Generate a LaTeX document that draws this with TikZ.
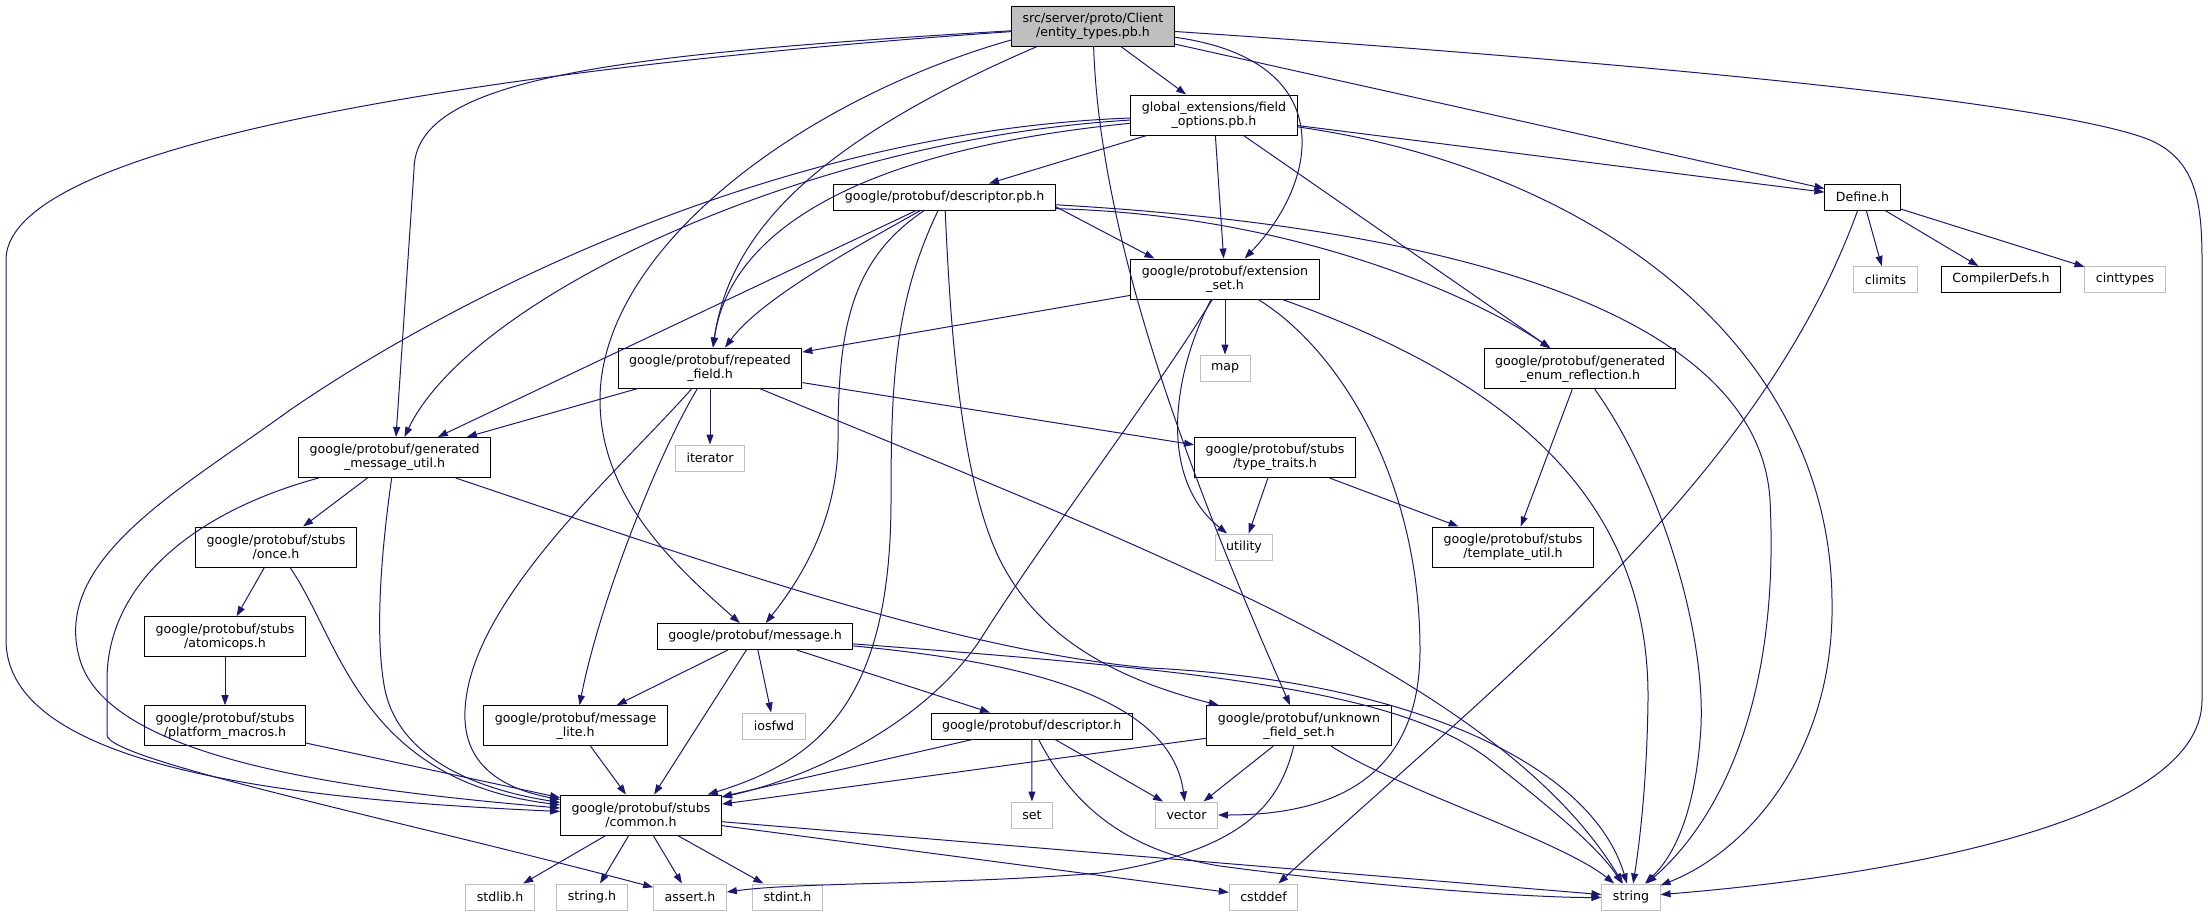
\documentclass[tikz,border=0pt]{standalone}
\usepackage{fontspec}
\setmainfont{DejaVu Sans}
\usetikzlibrary{arrows.meta}
\definecolor{navy}{HTML}{191970}
\definecolor{grey75}{HTML}{BFBFBF}

\begin{document}
\begin{tikzpicture}[
    x=1pt, y=-1pt,
    file/.style={rectangle, draw=black, line width=1pt, fill=white,
        minimum height=26pt, inner xsep=11pt, inner ysep=3pt, align=center,
        font=\fontsize{12.6}{14}\selectfont},
    dbl/.style={minimum height=40pt},
    sys/.style={file, draw=grey75},
    link/.style={navy, line width=1pt, -{Triangle[length=10pt,width=7pt]}}
]
    \useasboundingbox (0,0) rectangle (2208,916);

    \node[file,dbl,fill=grey75] (root) at (1093,26) {src/server/proto/Client\\/entity\_types.pb.h};
    \node[file,dbl] (fopt) at (1214,115) {global\_extensions/field\\\_options.pb.h};
    \node[file] (dpb) at (944.6,197) {google/protobuf/descriptor.pb.h};
    \node[file] (define) at (1862.5,197) {Define.h};
    \node[file,dbl] (extset) at (1225,279) {google/protobuf/extension\\\_set.h};
    \node[sys] (climits) at (1885.5,279.5) {climits};
    \node[file] (compdefs) at (2001,279.5) {CompilerDefs.h};
    \node[sys] (cinttypes) at (2125,279.5) {cinttypes};
    \node[file,dbl] (repf) at (710,368) {google/protobuf/repeated\\\_field.h};
    \node[sys] (map) at (1225,368) {map};
    \node[file,dbl] (enumref) at (1580,368.7) {google/protobuf/generated\\\_enum\_reflection.h};
    \node[file,dbl] (gmu) at (394.6,457.5) {google/protobuf/generated\\\_message\_util.h};
    \node[sys] (iterator) at (710,458) {iterator};
    \node[file,dbl] (traits) at (1275,457.5) {google/protobuf/stubs\\/type\_traits.h};
    \node[file,dbl] (once) at (276,547) {google/protobuf/stubs\\/once.h};
    \node[sys] (utility) at (1244,547) {utility};
    \node[file,dbl] (tmpl) at (1513,547) {google/protobuf/stubs\\/template\_util.h};
    \node[file,dbl] (atomic) at (225,636.7) {google/protobuf/stubs\\/atomicops.h};
    \node[file] (message) at (755,636.5) {google/protobuf/message.h};
    \node[file,dbl] (platform) at (225,725.7) {google/protobuf/stubs\\/platform\_macros.h};
    \node[file,dbl] (msglite) at (575.5,725.7) {google/protobuf/message\\\_lite.h};
    \node[sys] (iosfwd) at (774,726) {iosfwd};
    \node[file] (descr) at (1031.7,726) {google/protobuf/descriptor.h};
    \node[file,dbl] (unknown) at (1299,725.7) {google/protobuf/unknown\\\_field\_set.h};
    \node[file,dbl] (common) at (641,815) {google/protobuf/stubs\\/common.h};
    \node[sys] (set) at (1032,815) {set};
    \node[sys] (vector) at (1186.5,815) {vector};
    \node[sys] (stdlib) at (500,897) {stdlib.h};
    \node[sys] (stringh) at (592,897) {string.h};
    \node[sys] (assert) at (690,897) {assert.h};
    \node[sys] (stdint) at (787.5,897) {stdint.h};
    \node[sys] (cstddef) at (1263.6,897) {cstddef};
    \node[sys] (string) at (1631,897) {string};

    \draw[link] (root) -- (fopt);
    \draw[link] (root) -- (define);
    \draw[link] (root) .. controls (1600,60) and (2050,100) .. (2150,140) .. controls (2195,160) and (2202,200) .. (2202,260) -- (2202,700) .. controls (2202,820) and (1900,875) .. (string);
    \draw[link] (root) .. controls (600,60) and (6,130) .. (6,260) -- (6,640) .. controls (6,770) and (300,800) .. (common);
    \draw[link] (root) .. controls (600,55) and (414,80) .. (414,170) -- (gmu);
    \draw[link] ([xshift=26pt]root.south west) .. controls (820,140) and (730,230) .. (repf);
    \draw[link] ([yshift=-14pt]root.west) .. controls (800,100) and (600,250) .. (600,400) .. controls (600,500) and (680,570) .. (message);
    \draw[link] (root) .. controls (1340,60) and (1320,180) .. (extset);
    \draw[link] (root) .. controls (1100,250) and (1200,500) .. (unknown);

    \draw[link] (fopt) -- (dpb);
    \draw[link] (fopt) .. controls (800,140) and (470,300) .. (gmu);
    \draw[link] (fopt) .. controls (860,150) and (730,230) .. (repf);
    \draw[link] (fopt) .. controls (800,130) and (480,280) .. (290,410) .. controls (180,490) and (50,560) .. (80,660) .. controls (110,760) and (350,790) .. (common);
    \draw[link] (fopt) -- (extset);
    \draw[link] (fopt) -- (enumref);
    \draw[link] (fopt) -- (define);
    \draw[link] (fopt) .. controls (1600,170) and (1830,350) .. (1832,600) .. controls (1835,750) and (1750,850) .. (string);

    \draw[link] (dpb) -- (gmu);
    \draw[link] (dpb) .. controls (850,250) and (760,300) .. (repf);
    \draw[link] (dpb) .. controls (850,260) and (838,330) .. (838,440) .. controls (838,520) and (800,580) .. (message);
    \draw[link] (dpb) .. controls (895,300) and (891,380) .. (891,500) .. controls (891,700) and (820,760) .. (common);
    \draw[link] (dpb) .. controls (950,320) and (960,480) .. (1000,560) .. controls (1040,640) and (1120,680) .. (unknown);
    \draw[link] (dpb.-5) -- ([xshift=24pt]extset.north west);
    \draw[link] (dpb.-6) .. controls (1300,215) and (1480,300) .. (enumref);
    \draw[link] (dpb.-4) .. controls (1500,230) and (1760,330) .. (1770,500) .. controls (1780,700) and (1720,820) .. (string);

    \draw[link] (define) -- (climits);
    \draw[link] (define) -- (compdefs);
    \draw[link] (define) -- (cinttypes);
    \draw[link] (define) .. controls (1760,480) and (1500,680) .. (cstddef);

    \draw[link] (extset) -- (repf);
    \draw[link] (extset) -- (map);
    \draw[link] ([xshift=-14pt]extset.south) .. controls (1170,380) and (1160,480) .. (utility);
    \draw[link] (extset) .. controls (1150,400) and (1050,530) .. (980,640) .. controls (920,730) and (800,780) .. (common);
    \draw[link] (extset) .. controls (1340,350) and (1420,480) .. (1420,650) .. controls (1420,780) and (1330,815) .. (vector);
    \draw[link] (extset) .. controls (1480,370) and (1650,480) .. (1648,700) .. controls (1647,780) and (1640,840) .. (string);

    \draw[link] (repf) -- (gmu);
    \draw[link] (repf) -- (iterator);
    \draw[link] (repf) -- (traits);
    \draw[link] (repf) .. controls (1150,550) and (1500,680) .. (string);
    \draw[link] (repf) .. controls (620,470) and (470,600) .. (465,710) .. controls (462,770) and (510,790) .. (common);
    \draw[link] (repf) .. controls (660,450) and (600,600) .. (msglite);

    \draw[link] (gmu) -- (once);
    \draw[link] (gmu) .. controls (380,560) and (375,640) .. (385,690) .. controls (400,760) and (480,790) .. (common);
    \draw[link] (gmu) .. controls (200,510) and (107,580) .. (107,680) -- (107,735) .. controls (107,760) and (400,820) .. (assert);
    \draw[link] (gmu) .. controls (700,560) and (950,650) .. (1150,668) .. controls (1400,680) and (1590,760) .. (string);

    \draw[link] (enumref) -- (tmpl);
    \draw[link] (enumref) .. controls (1660,480) and (1710,640) .. (1700,740) .. controls (1695,800) and (1680,850) .. (string);

    \draw[link] (traits) -- (utility);
    \draw[link] (traits) -- (tmpl);

    \draw[link] (once) -- (atomic);
    \draw[link] (once) .. controls (340,640) and (360,780) .. (common);
    \draw[link] (atomic) -- (platform);
    \draw[link] (platform) -- (common);

    \draw[link] (message) -- (msglite);
    \draw[link] (message) -- (common);
    \draw[link] (message) -- (iosfwd);
    \draw[link] (message) -- (descr);
    \draw[link] (message) .. controls (1000,660) and (1170,690) .. (vector);
    \draw[link] (message) .. controls (1200,670) and (1400,690) .. (1490,760) .. controls (1560,815) and (1600,850) .. (string);

    \draw[link] (msglite) -- (common);

    \draw[link] (descr) -- (common);
    \draw[link] (descr) -- (set);
    \draw[link] (descr) -- (vector);
    \draw[link] (descr) .. controls (1070,800) and (1120,850) .. (1220,866) .. controls (1400,890) and (1550,898) .. (string);

    \draw[link] (unknown) -- (common);
    \draw[link] (unknown) -- (vector);
    \draw[link] (unknown) .. controls (1400,790) and (1560,840) .. (string);
    \draw[link] (unknown) .. controls (1280,800) and (1250,850) .. (1100,873) .. controls (950,885) and (800,882) .. (assert);

    \draw[link] (common) -- (stdlib);
    \draw[link] (common) -- (stringh);
    \draw[link] (common) -- (assert);
    \draw[link] (common) -- (stdint);
    \draw[link] (common) -- (cstddef);
    \draw[link] (common) -- (string);
\end{tikzpicture}
\end{document}
